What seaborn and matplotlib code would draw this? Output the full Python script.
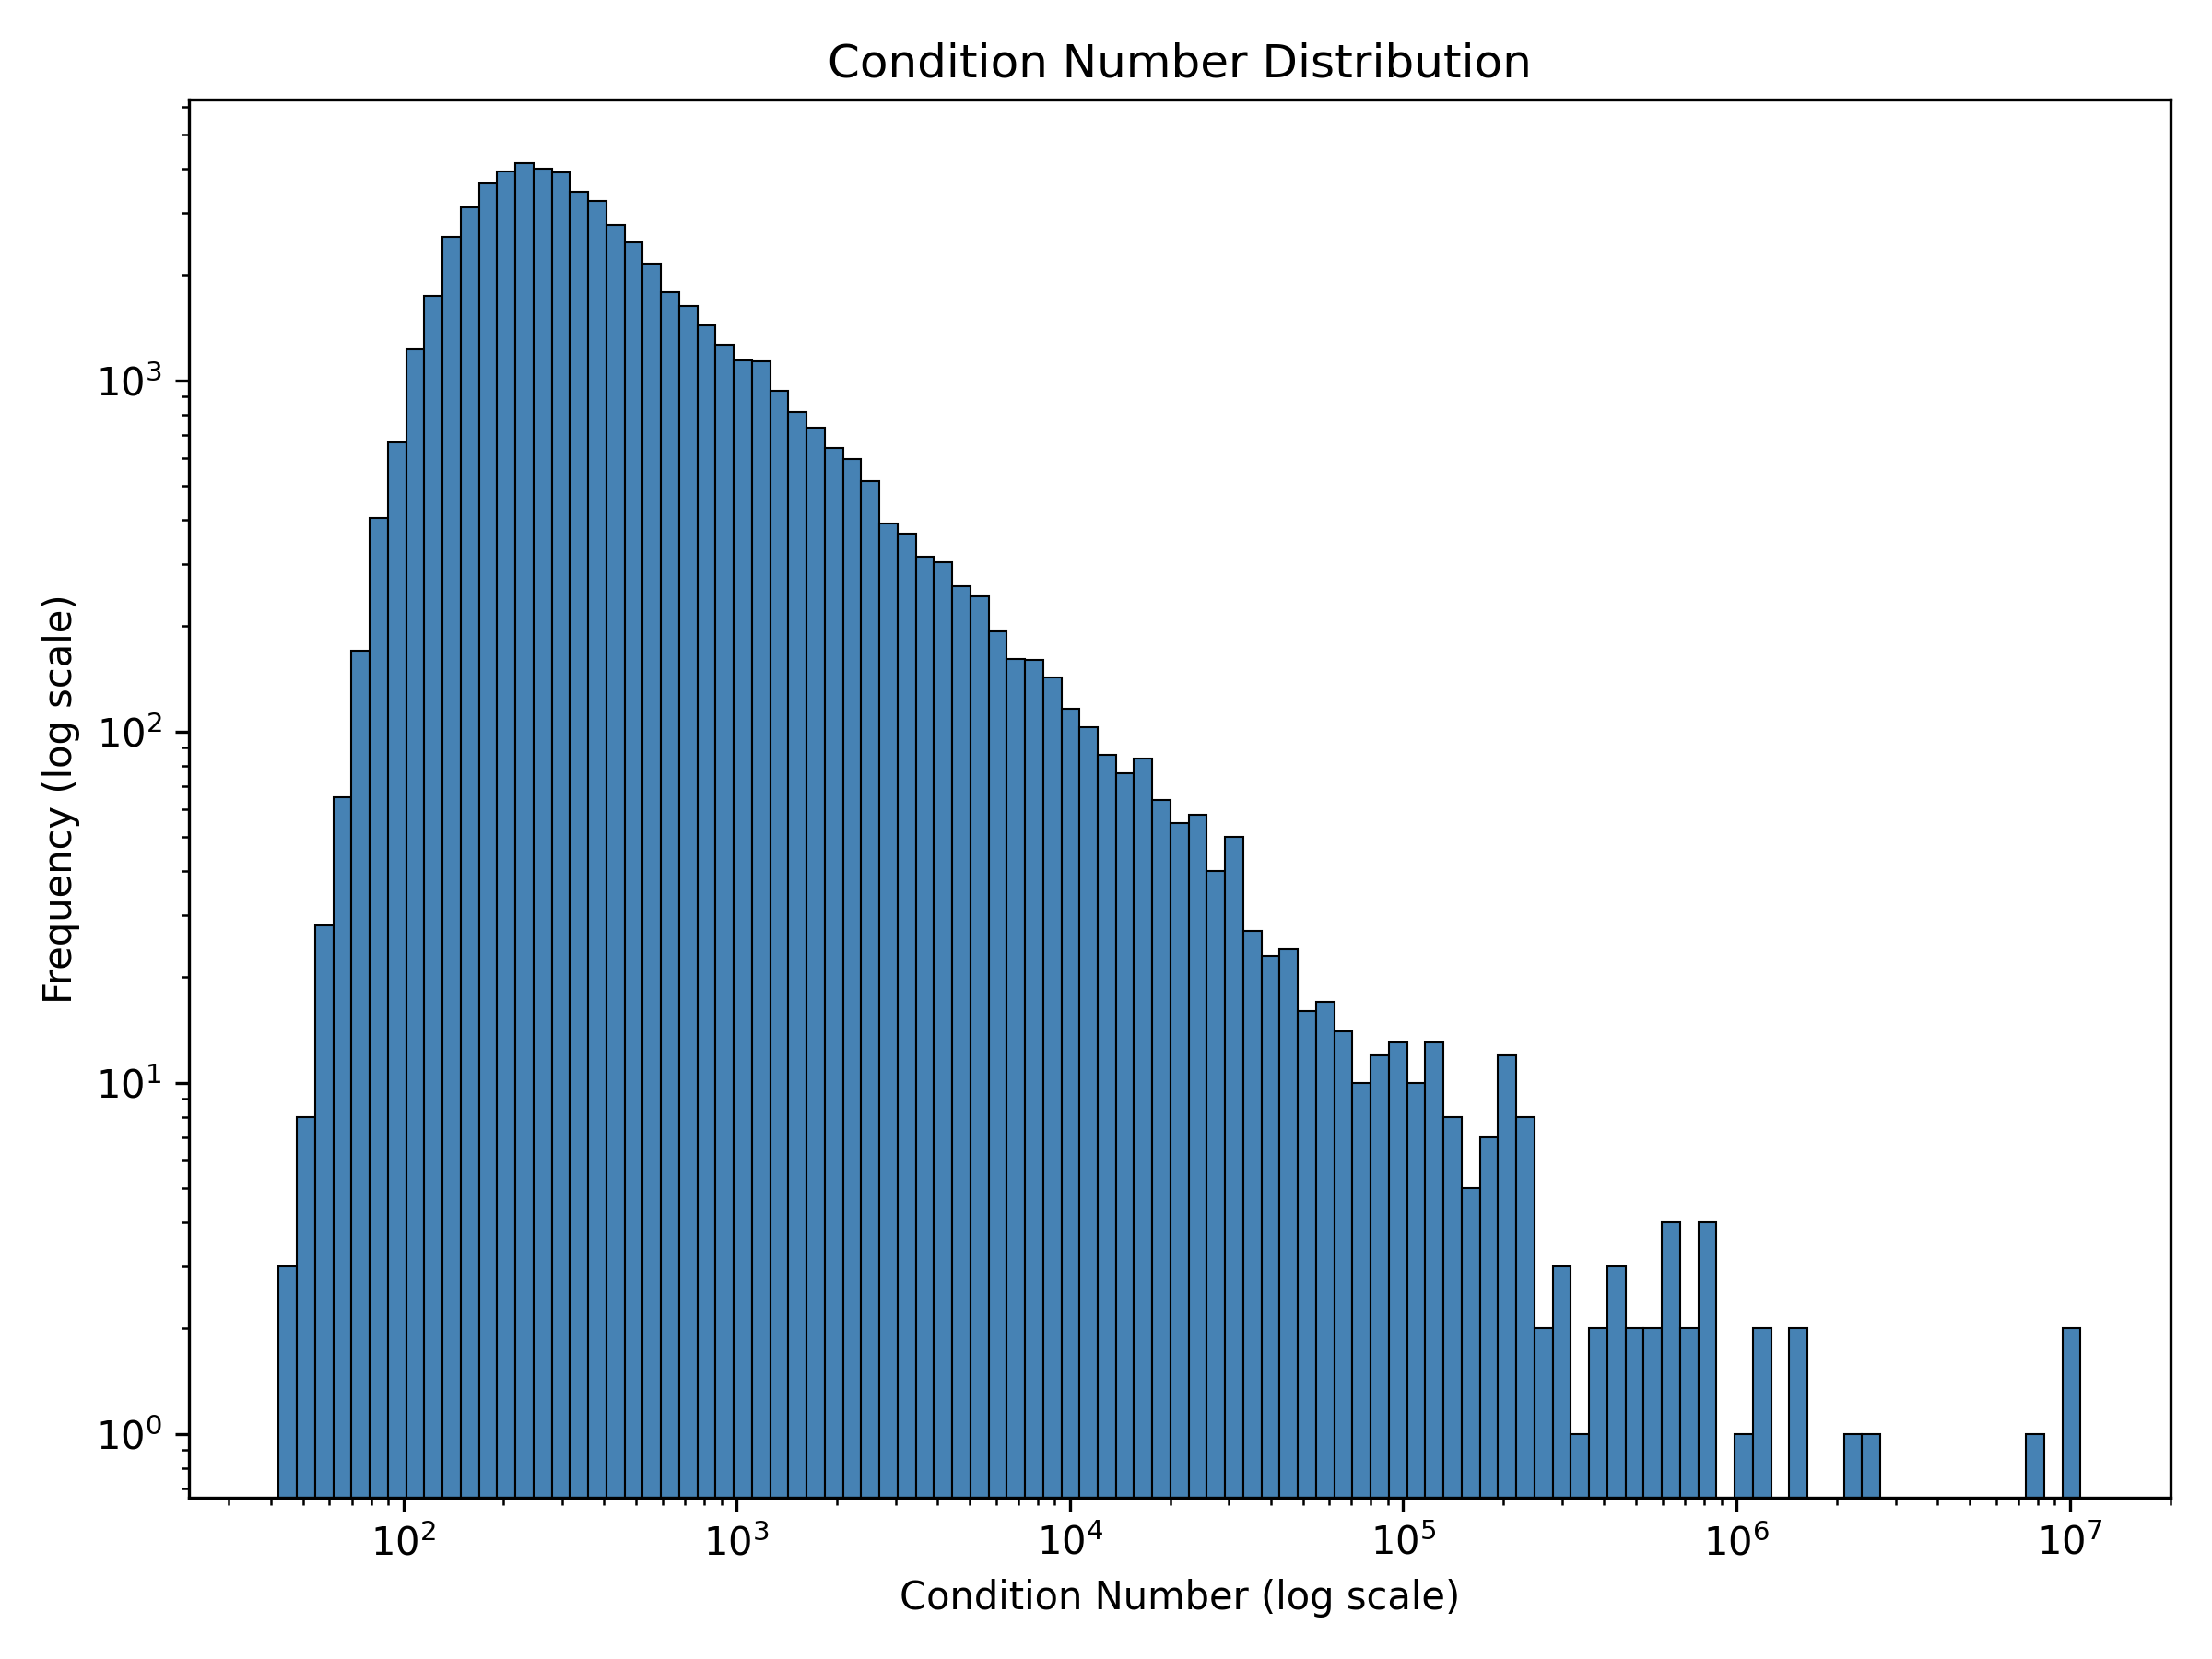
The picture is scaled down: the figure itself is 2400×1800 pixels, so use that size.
import numpy as np
import pandas as pd
import matplotlib
matplotlib.use("Agg")
import matplotlib.pyplot as plt
import seaborn as sns

# Histogram data (99 log-spaced bins)
data_min = 42.3          # left edge of first bin
data_max = 1.076e7       # right edge of last bin
n_bins = 99
counts = [
    3, 8, 28, 65, 170, 406, 668, 1225, 1737, 2570,
    3119, 3648, 3946, 4159, 4018, 3916, 3452, 3250, 2767, 2465,
    2154, 1781, 1625, 1439, 1262, 1140, 1133, 934, 811, 733,
    642, 597, 516, 392, 367, 314, 304, 259, 243, 193,
    161, 160, 143, 116, 103, 86, 76, 84, 64, 55,
    58, 40, 50, 27, 23, 24, 16, 17, 14, 10,
    12, 13, 10, 13, 8, 5, 7, 12, 8, 2,
    3, 1, 2, 3, 2, 2, 4, 2, 4, 0,
    1, 2, 0, 2, 0, 0, 1, 1, 0, 0,
    0, 0, 0, 0, 0, 0, 1, 0, 2,
]

title = "Condition Number Distribution"
xlabel = "Condition Number (log scale)"
ylabel = "Frequency (log scale)"

lo, hi = np.log10(data_min), np.log10(data_max)
w = (hi - lo) / n_bins
centers = 10 ** (lo + (np.arange(n_bins) + 0.5) * w)
df = pd.DataFrame({"cond": centers, "count": counts})
df = df[df["count"] > 0]

fig, ax = plt.subplots(figsize=(8, 6), dpi=300)
ax.set_yscale("log")
sns.histplot(
    data=df, x="cond", weights="count",
    bins=n_bins, binrange=(lo, hi), log_scale=True,
    color="steelblue", edgecolor="black", linewidth=0.5, alpha=1.0,
    ax=ax,
)
ax.set_yscale("log")
ax.set_title(title)
ax.set_xlabel(xlabel)
ax.set_ylabel(ylabel)
fig.tight_layout()
fig.savefig("out.png", dpi=300)
